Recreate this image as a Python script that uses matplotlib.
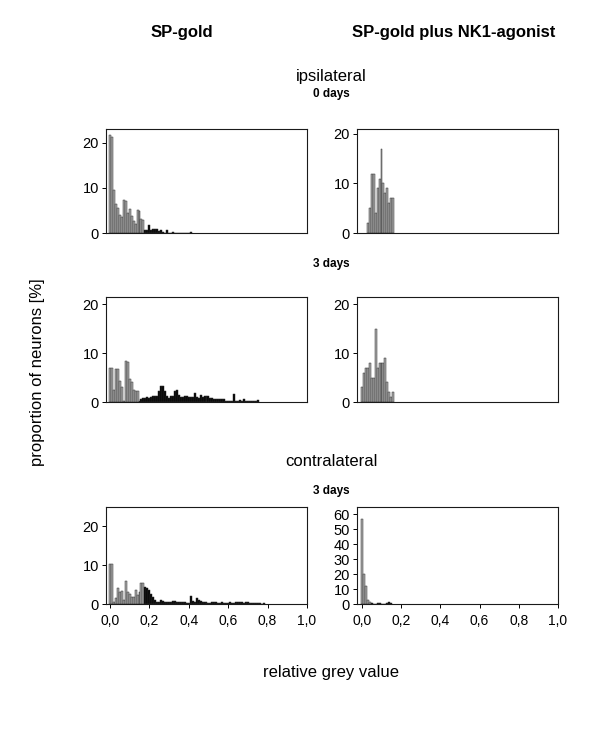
import numpy as np
import matplotlib
matplotlib.use("Agg")
import matplotlib.pyplot as plt

plt.rcParams['font.family'] = ['Liberation Sans', 'DejaVu Sans']

# bin width of the histograms (relative grey value)
BIN = 0.01

# ipsilateral, 0 days -- SP-gold (bins from 0.00)
ipsi0_gold = [21.7, 21.2, 9.4, 6.4, 5.5, 4.0, 3.6, 7.3, 7.0, 4.4, 5.3, 3.8, 2.6, 2.0,
              5.0, 4.8, 3.0, 2.9, 0.7, 0.7, 1.7, 0.6, 0.8, 0.8, 0.8, 0.4, 0.6, 0.3,
              0, 0.7, 0, 0, 0.2, 0, 0, 0, 0, 0, 0, 0, 0, 0.3]
# ipsilateral, 0 days -- SP-gold plus NK1-agonist (bins from 0.03)
ipsi0_nk1 = [2, 5, 12, 12, 4, 9, 11, 17, 10, 8, 9, 6, 7, 7]

# ipsilateral, 3 days -- SP-gold (bins from 0.00)
ipsi3_gold = [7.0, 7.0, 2.5, 6.8, 6.8, 4.4, 3.0, 0.3, 8.3, 8.2, 4.8, 4.0, 2.5, 2.2, 2.2,
              0.3, 0.6, 0.9, 0.8, 1.0, 0.8, 1.0, 1.2, 1.2, 1.2, 2.3, 3.2, 3.2, 2.3,
              1.3, 0.8, 1.3, 1.3, 2.3, 2.4, 1.5, 1.0, 1.0, 1.3, 1.2, 1.0, 1.0, 1.0,
              1.8, 1.0, 0.8, 1.5, 1.0, 1.3, 1.3, 1.3, 0.9, 0.9, 0.6, 0.6, 0.6, 0.6,
              0.6, 0.6, 0.3, 0.3, 0.3, 0.3, 1.7, 0.3, 0.3, 0.5, 0.3, 0.6, 0.2, 0.2,
              0.2, 0.2, 0.2, 0.2, 0.4]
# ipsilateral, 3 days -- SP-gold plus NK1-agonist (bins from 0.00)
ipsi3_nk1 = [3, 6, 7, 7, 8, 5, 5, 15, 7, 8, 8, 8, 9, 4, 2, 1, 2]

# contralateral, 3 days -- SP-gold (bins from 0.00)
contra3_gold = [10.2, 10.2, 0.4, 1.5, 4.2, 3.0, 3.4, 1.0, 5.8, 3.2, 2.5, 1.8, 1.8, 3.6,
                2.2, 3.0, 5.3, 5.3,
                4.3, 4.0, 3.5, 2.5, 1.8, 1.0, 0.6, 0.6, 1.0, 0.8, 0.6, 0.6, 0.6, 0.5,
                0.8, 0.8, 0.5, 0.4, 0.4, 0.4, 0.6, 0.3, 0.3, 2.0, 0.9, 0.5, 1.5, 1.0,
                0.8, 0.5, 0.5, 0.4, 0.3, 0.3, 0.4, 0.5, 0.4, 0.3, 0.3, 0.5, 0.3, 0.3,
                0.3, 0.4, 0.3, 0.3, 0.5, 0.6, 0.4, 0.4, 0.3, 0.4, 0.4, 0.3, 0.2, 0.2,
                0.3, 0.2, 0.2, 0.1, 0.2]
# contralateral, 3 days -- SP-gold plus NK1-agonist (bins from 0.00)
contra3_nk1 = [57, 20, 12, 2.5, 1.5, 0.5, 0, 0, 0.8, 0.5, 0, 0, 0, 1.0, 1.5, 0.8]

xticks = [0.0, 0.2, 0.4, 0.6, 0.8, 1.0]
xticklabels = ['0,0', '0,2', '0,4', '0,6', '0,8', '1,0']

W, H = 600, 743
fig = plt.figure(figsize=(W / 100, H / 100), dpi=100)


def px_axes(x0, y0, x1, y1):
    # pixel box (from top-left) -> figure axes
    return fig.add_axes([x0 / W, 1 - y1 / H, (x1 - x0) / W, (y1 - y0) / H])


def hist_panel(box, vals, first_bin, black_from, ylim, yticks, xmin, bottom=False):
    ax = px_axes(*box)
    k = np.arange(first_bin, first_bin + len(vals))
    cols = ['#000000' if i >= black_from else '#a8a8a8' for i in k]
    ax.bar(k * BIN, vals, width=BIN, color=cols, edgecolor='#303030',
           linewidth=0.35, align='center')
    ax.set_xlim(xmin, 1.0)
    ax.set_ylim(0, ylim)
    ax.set_yticks(yticks)
    ax.tick_params(axis='y', length=3, width=0.7, labelsize=10.5, pad=2)
    if bottom:
        ax.set_xticks(xticks)
        ax.set_xticklabels(xticklabels)
        ax.tick_params(axis='x', length=3, width=0.7, labelsize=10, pad=4)
    else:
        ax.set_xticks([])
    for s in ax.spines.values():
        s.set_linewidth(0.8)
        s.set_color('#1a1a1a')
    return ax


LEFT = (106, 307)
RIGHT = (357, 558)

# row 1: ipsilateral 0 days
hist_panel((LEFT[0], 129, LEFT[1], 233), ipsi0_gold, 0, 18, 23, [0, 10, 20], -0.02)
hist_panel((RIGHT[0], 129, RIGHT[1], 233), ipsi0_nk1, 3, 99, 21, [0, 10, 20], -0.025)
# row 2: ipsilateral 3 days
hist_panel((LEFT[0], 297, LEFT[1], 402), ipsi3_gold, 0, 15, 21.5, [0, 10, 20], -0.02)
hist_panel((RIGHT[0], 297, RIGHT[1], 402), ipsi3_nk1, 0, 99, 21.5, [0, 10, 20], -0.025)
# row 3: contralateral 3 days
hist_panel((LEFT[0], 507, LEFT[1], 604), contra3_gold, 0, 18, 25, [0, 10, 20], -0.02,
           bottom=True)
hist_panel((RIGHT[0], 507, RIGHT[1], 604), contra3_nk1, 0, 5, 65,
           [0, 10, 20, 30, 40, 50, 60], -0.025, bottom=True)

# headers
fig.text(182 / W, 1 - 33 / H, 'SP-gold', ha='center', va='center',
         fontsize=12, fontweight='bold')
fig.text(454 / W, 1 - 33 / H, 'SP-gold plus NK1-agonist', ha='center', va='center',
         fontsize=12, fontweight='bold')
fig.text(331 / W, 1 - 77 / H, 'ipsilateral', ha='center', va='center', fontsize=12)
fig.text(331 / W, 1 - 94 / H, '0 days', ha='center', va='center', fontsize=8.5,
         fontweight='bold')
fig.text(331 / W, 1 - 264 / H, '3 days', ha='center', va='center', fontsize=8.5,
         fontweight='bold')
fig.text(331 / W, 1 - 462 / H, 'contralateral', ha='center', va='center', fontsize=12)
fig.text(331 / W, 1 - 491 / H, '3 days', ha='center', va='center', fontsize=8.5,
         fontweight='bold')

fig.text(38 / W, 1 - 372 / H, 'proportion of neurons [%]', ha='center', va='center',
         rotation=90, fontsize=12)
fig.text(331 / W, 1 - 673 / H, 'relative grey value', ha='center', va='center',
         fontsize=12)

fig.savefig('out.png', dpi=100)
